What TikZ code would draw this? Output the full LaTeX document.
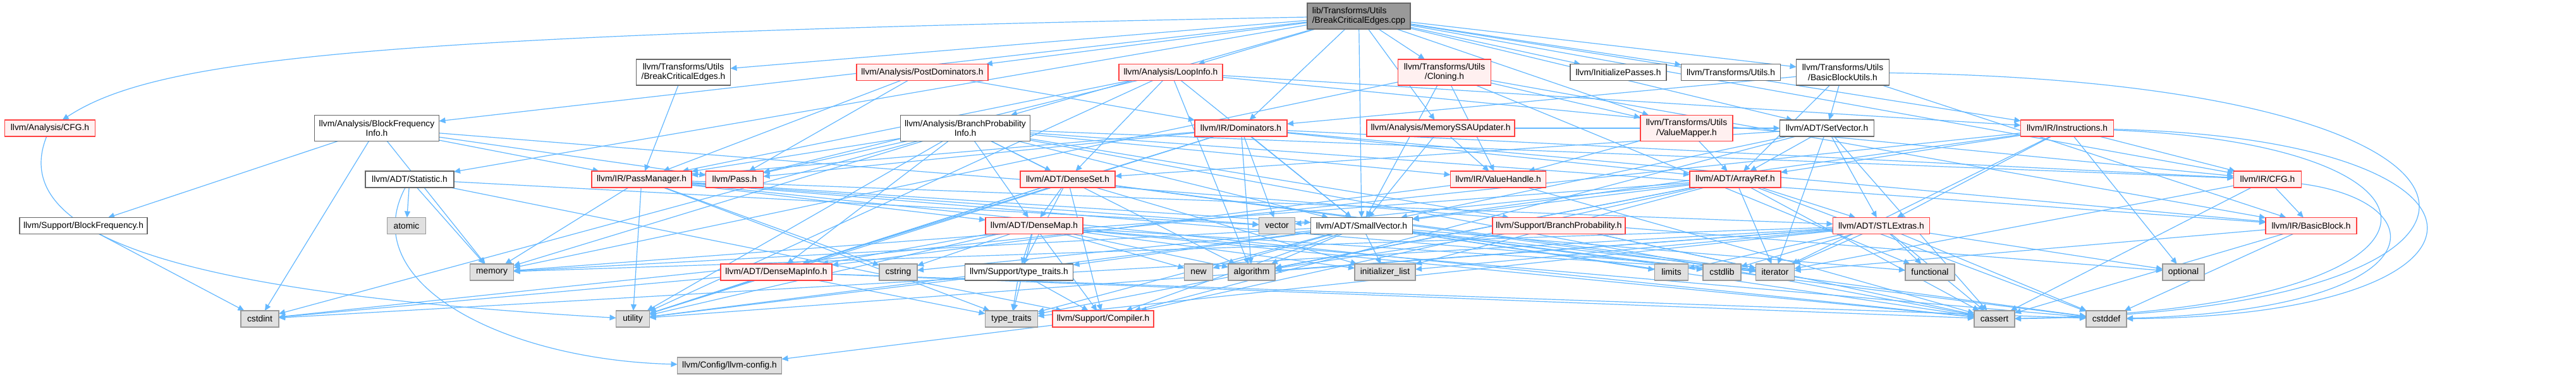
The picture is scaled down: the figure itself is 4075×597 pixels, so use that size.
\documentclass[tikz,border=0pt]{standalone}
\usepackage{fontspec}
\setmainfont{Liberation Sans}
\usetikzlibrary{arrows.meta}
\definecolor{edgec}{HTML}{63B8FF}
\definecolor{redb}{HTML}{FF4040}
\definecolor{redf}{HTML}{FFF0F0}
\definecolor{grayb}{HTML}{999999}
\definecolor{grayf}{HTML}{E0E0E0}
\definecolor{darkb}{HTML}{666666}
\pgfdeclarelayer{bg}\pgfdeclarelayer{edges}\pgfsetlayers{bg,edges,main}
\tikzset{
 nd/.style={draw, line width=0.6pt, inner sep=0pt, outer sep=0pt, minimum height=13pt, font=\fontsize{6.9pt}{7.7pt}\selectfont, align=center},
 two/.style={minimum height=20.5pt},
 redn/.style={nd, draw=redb, fill=redf},
 whn/.style={nd, draw=darkb, fill=white},
 sysn/.style={nd, draw=grayb, fill=grayf},
 rootn/.style={nd, draw=darkb, fill=grayb, align=left, minimum height=20.5pt},
 e/.style={draw=edgec, line width=0.6pt, -{Triangle[length=5pt,width=4.5pt]}},
}
\begin{document}
\begin{tikzpicture}[x=0.5pt,y=-0.5pt]
\useasboundingbox (0,0) rectangle (4075,597);
\begin{pgfonlayer}{bg}\fill[white] (0,0) rectangle (4075,597);\end{pgfonlayer}
\node[rootn, minimum width=81.5pt] (root) at (2149.5,25.5) {lib/Transforms/Utils\\/BreakCriticalEdges.cpp};
\node[redn, minimum width=71.5pt] (CFGa) at (79,203) {llvm/Analysis/CFG.h};
\node[whn, two, minimum width=98.5pt] (BFI) at (596,203) {llvm/Analysis/BlockFrequency\\Info.h};
\node[whn, minimum width=70pt] (Stat) at (648,284) {llvm/ADT/Statistic.h};
\node[whn, two, minimum width=74.5pt] (BCEh) at (1081,114.5) {llvm/Transforms/Utils\\/BreakCriticalEdges.h};
\node[redn, minimum width=79pt] (PM) at (1015,284) {llvm/IR/PassManager.h};
\node[redn, minimum width=45.5pt] (Pass) at (1162,284) {llvm/Pass.h};
\node[redn, minimum width=104pt] (PostDom) at (1459,114.5) {llvm/Analysis/PostDominators.h};
\node[redn, minimum width=82pt] (LoopInfo) at (1852,114.5) {llvm/Analysis/LoopInfo.h};
\node[whn, two, minimum width=102.5pt] (BPI) at (1527,203) {llvm/Analysis/BranchProbability\\Info.h};
\node[redn, minimum width=73pt] (Dom) at (1963,203) {llvm/IR/Dominators.h};
\node[redn, minimum width=75pt] (DenseSet) at (1689,284) {llvm/ADT/DenseSet.h};
\node[redn, two, minimum width=73.5pt] (Cloning) at (2285,114.5) {llvm/Transforms/Utils\\/Cloning.h};
\node[redn, minimum width=117pt] (MSSAU) at (2279,203) {llvm/Analysis/MemorySSAUpdater.h};
\node[whn, minimum width=76pt] (InitP) at (2560,114.5) {llvm/InitializePasses.h};
\node[whn, minimum width=78.5pt] (TUtils) at (2738,114.5) {llvm/Transforms/Utils.h};
\node[redn, two, minimum width=73pt] (VMap) at (2668,203) {llvm/Transforms/Utils\\/ValueMapper.h};
\node[redn, minimum width=75.5pt] (VHandle) at (2370,284) {llvm/IR/ValueHandle.h};
\node[redn, minimum width=72pt] (ArrayRef) at (2745,284) {llvm/ADT/ArrayRef.h};
\node[whn, two, minimum width=73.5pt] (BBUtils) at (2915,114.5) {llvm/Transforms/Utils\\/BasicBlockUtils.h};
\node[whn, minimum width=74.5pt] (SetVec) at (2890,203) {llvm/ADT/SetVector.h};
\node[redn, minimum width=73.5pt] (Instr) at (3270,203) {llvm/IR/Instructions.h};
\node[redn, minimum width=53.5pt] (IRCFG) at (3587,284) {llvm/IR/CFG.h};
\node[whn, minimum width=101pt] (BlockFreq) at (132,357.5) {llvm/Support/BlockFrequency.h};
\node[sysn, minimum width=30.5pt] (atomic) at (643,357.5) {atomic};
\node[sysn, minimum width=30pt] (cstdint) at (411,505) {cstdint};
\node[sysn, minimum width=34.5pt] (memory) at (778,431) {memory};
\node[redn, minimum width=88pt] (DMInfo) at (1228,431) {llvm/ADT/DenseMapInfo.h};
\node[sysn, minimum width=26.5pt] (utility) at (1001,505) {utility};
\node[sysn, minimum width=82.5pt] (config) at (1154,579) {llvm/Config/llvm-config.h};
\node[redn, minimum width=77pt] (DenseMap) at (1636,357.5) {llvm/ADT/DenseMap.h};
\node[sysn, minimum width=28.5pt] (vector) at (2020,357.5) {vector};
\node[sysn, minimum width=30pt] (cstring) at (1421,431) {cstring};
\node[whn, minimum width=85.5pt] (SuppTT) at (1612,431) {llvm/Support/type\_traits.h};
\node[sysn, minimum width=22.5pt] (new) at (1896,431) {new};
\node[sysn, minimum width=37pt] (algorithm) at (1980,431) {algorithm};
\node[sysn, minimum width=41.5pt] (typetraits) at (1600,505) {type\_traits};
\node[redn, minimum width=80pt] (Compiler) at (1745,505) {llvm/Support/Compiler.h};
\node[whn, minimum width=80.5pt] (SmallVec) at (2154,357.5) {llvm/ADT/SmallVector.h};
\node[redn, minimum width=105pt] (BProb) at (2466,357.5) {llvm/Support/BranchProbability.h};
\node[sysn, minimum width=48pt] (initlist) at (2191,431) {initializer\_list};
\node[sysn, minimum width=26.5pt] (limits) at (2644,431) {limits};
\node[sysn, minimum width=30pt] (cstdlib) at (2724,431) {cstdlib};
\node[redn, minimum width=76.5pt] (STLExt) at (2976,357.5) {llvm/ADT/STLExtras.h};
\node[sysn, minimum width=30.5pt] (iterator) at (2808,431) {iterator};
\node[sysn, minimum width=39pt] (functional) at (3053,431) {functional};
\node[sysn, minimum width=32pt] (cassert) at (3155,505) {cassert};
\node[sysn, minimum width=32pt] (cstddef) at (3332,505) {cstddef};
\node[redn, minimum width=72pt] (BB) at (3656,357.5) {llvm/IR/BasicBlock.h};
\node[sysn, minimum width=33pt] (optional) at (3454,431) {optional};
\begin{pgfonlayer}{edges}
\foreach \t in {BCEh,SetVec,SmallVec,Stat,BFI,BPI,LoopInfo,MSSAU,PostDom,IRCFG,Dom,Instr,InitP,TUtils,BBUtils,Cloning,VMap} \draw[e] (root) -- (\t);
\draw[e] (root) .. controls (600,55) and (250,90) .. (CFGa);
\draw[e] (CFGa) .. controls (0,400) and (400,470) .. (utility);
\foreach \t in {BlockFreq,cstdint,memory,PM,Pass,optional} \draw[e] (BFI) -- (\t);
\draw[e] (BlockFreq) -- (cstdint);
\foreach \t in {atomic,memory,vector,Compiler} \draw[e] (Stat) -- (\t);
\draw[e] (Stat) .. controls (560,450) and (800,570) .. (config);
\draw[e] (BCEh) -- (PM);
\foreach \t in {Dom,PM,Pass} \draw[e] (PostDom) -- (\t);
\foreach \t in {DenseSet,PM,Pass,SmallVec,algorithm,utility,Instr,IRCFG} \draw[e] (LoopInfo) -- (\t);
\foreach \t in {DenseMap,DMInfo,DenseSet,SmallVec,BB,IRCFG,PM,VHandle,Pass,BProb,algorithm,cassert,cstdint,memory,utility} \draw[e] (BPI) -- (\t);
\foreach \t in {ArrayRef,DMInfo,SmallVec,BB,IRCFG,PM,Pass,algorithm,utility,vector} \draw[e] (Dom) -- (\t);
\foreach \t in {DenseMap,DMInfo,SuppTT,Compiler,cstddef,initlist,iterator,utility} \draw[e] (DenseSet) -- (\t);
\foreach \t in {DMInfo,SuppTT,Compiler,algorithm,cassert,cstddef,cstring,initlist,iterator,new,typetraits,utility} \draw[e] (DenseMap) -- (\t);
\foreach \t in {cassert,cstddef,cstdint,typetraits,utility} \draw[e] (DMInfo) -- (\t);
\foreach \t in {typetraits,utility,Compiler} \draw[e] (SuppTT) -- (\t);
\draw[e] (Compiler) -- (config);
\foreach \t in {SetVec,SmallVec,VHandle} \draw[e] (MSSAU) -- (\t);
\foreach \t in {VMap,VHandle,SmallVec,BB,functional,memory} \draw[e] (Cloning) -- (\t);
\foreach \t in {ArrayRef,VHandle} \draw[e] (VMap) -- (\t);
\foreach \t in {DMInfo,cassert} \draw[e] (VHandle) -- (\t);
\foreach \t in {ArrayRef,DenseSet,STLExt,SmallVec,Compiler,cassert,iterator} \draw[e] (SetVec) -- (\t);
\foreach \t in {ArrayRef,STLExt,SmallVec,IRCFG,cstdint,iterator,optional} \draw[e] (Instr) -- (\t);
\draw[e] (Instr) .. controls (3930,230) and (3930,490) .. (cassert);
\draw[e] (Instr) .. controls (4000,220) and (4000,500) .. (cstddef);
\foreach \t in {ArrayRef,SetVec,BB,Dom} \draw[e] (BBUtils) -- (\t);
\draw[e] (BBUtils) .. controls (4069,130) and (4069,495) .. (cassert);
\foreach \t in {BB,iterator,cassert} \draw[e] (IRCFG) -- (\t);
\draw[e] (IRCFG) .. controls (3860,320) and (3860,490) .. (cstddef);
\foreach \t in {cassert,cstddef,iterator} \draw[e] (BB) -- (\t);
\foreach \t in {SmallVec,STLExt,Compiler,algorithm,cassert,cstddef,initlist,iterator,memory,typetraits,vector} \draw[e] (ArrayRef) -- (\t);
\foreach \t in {Compiler,SuppTT,algorithm,cassert,cstddef,cstdlib,cstring,functional,initlist,iterator,limits,memory,new,typetraits,utility} \draw[e] (SmallVec) -- (\t);
\foreach \t in {functional,iterator,cassert,cstddef,cstdint,cstdlib,limits,optional,algorithm,initlist,memory,typetraits,utility} \draw[e] (STLExt) -- (\t);
\foreach \t in {memory,utility,DenseMap,STLExt,SmallVec,cstring,typetraits,iterator,cassert,vector} \draw[e] (PM) -- (\t);
\foreach \t in {algorithm,cassert,iterator} \draw[e] (BProb) -- (\t);
\end{pgfonlayer}
\end{tikzpicture}
\end{document}
